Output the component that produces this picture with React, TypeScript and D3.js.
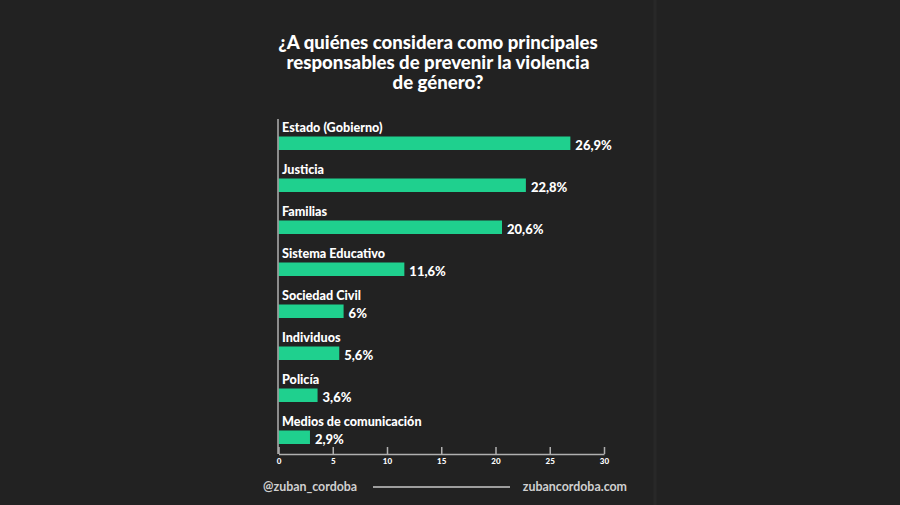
import React, { useRef, useEffect } from "react";
import * as d3 from "d3";

const categories = [
  "Estado (Gobierno)",
  "Justicia",
  "Familias",
  "Sistema Educativo",
  "Sociedad Civil",
  "Individuos",
  "Policía",
  "Medios de comunicación",
];
const values = [26.9, 22.8, 20.6, 11.6, 6, 5.6, 3.6, 2.9];
const valueLabels = ["26,9%", "22,8%", "20,6%", "11,6%", "6%", "5,6%", "3,6%", "2,9%"];
const xTicks = [0, 5, 10, 15, 20, 25, 30];
const titleLines = [
  "¿A quiénes considera como principales",
  "responsables de prevenir la violencia",
  "de género?",
];

const W = 900;
const H = 505;
const FONT = "Lato, 'Noto Sans', sans-serif";
const GREEN = "#1fd08e";

const App = () => {
  const svgRef = useRef(null);

  useEffect(() => {
    const svg = d3.select(svgRef.current);
    svg.selectAll("*").remove();

    svg.append("rect").attr("width", W).attr("height", H).attr("fill", "#222222");
    // faint panel edge on the right
    svg.append("line")
      .attr("x1", 655).attr("x2", 655).attr("y1", 0).attr("y2", H)
      .attr("stroke", "#282828").attr("stroke-width", 3);

    // Title
    svg.append("g")
      .selectAll("text")
      .data(titleLines)
      .enter().append("text")
      .attr("x", 438)
      .attr("y", (d, i) => 49 + i * 20)
      .attr("text-anchor", "middle")
      .attr("fill", "#ffffff")
      .attr("font-family", FONT)
      .attr("font-weight", 900)
      .attr("font-size", 18.6)
      .text(d => d);

    const x = d3.scaleLinear().domain([0, 30]).range([278.5, 604]);
    const y = d3.scaleBand().domain(categories).range([119, 455]).padding(0);

    const rows = categories.map((c, i) => ({ c, v: values[i], label: valueLabels[i] }));

    const g = svg.append("g");

    g.selectAll(".bar")
      .data(rows)
      .enter().append("rect")
      .attr("class", "bar")
      .attr("x", x(0))
      .attr("y", d => y(d.c) + 17.5)
      .attr("width", d => x(d.v) - x(0))
      .attr("height", 13.5)
      .attr("fill", GREEN);

    g.selectAll(".cat")
      .data(rows)
      .enter().append("text")
      .attr("class", "cat")
      .attr("x", 282)
      .attr("y", d => y(d.c) + 12.5)
      .attr("fill", "#ffffff")
      .attr("font-family", FONT)
      .attr("font-weight", 900)
      .attr("font-size", 12.6)
      .text(d => d.c);

    g.selectAll(".val")
      .data(rows)
      .enter().append("text")
      .attr("class", "val")
      .attr("x", d => x(d.v) + 5)
      .attr("y", d => y(d.c) + 30.5)
      .attr("fill", "#ffffff")
      .attr("font-family", FONT)
      .attr("font-weight", 900)
      .attr("font-size", 13)
      .text(d => d.label);

    // y axis line
    svg.append("line")
      .attr("x1", 278).attr("x2", 278).attr("y1", 119).attr("y2", 454)
      .attr("stroke", "#b0b0b0").attr("stroke-width", 1.5);

    // x axis with ticks pointing up
    const xAxis = svg.append("g")
      .attr("transform", "translate(0, 454)")
      .call(d3.axisBottom(x).tickValues(xTicks).tickSizeInner(-7).tickSizeOuter(0).tickPadding(4));
    xAxis.select(".domain").attr("stroke", "#b0b0b0").attr("stroke-width", 1.5);
    xAxis.selectAll(".tick line").attr("stroke", "#b0b0b0").attr("stroke-width", 1.5);
    xAxis.selectAll(".tick text")
      .attr("fill", "#ffffff")
      .attr("font-family", FONT)
      .attr("font-weight", 900)
      .attr("font-size", 8);

    // Footer
    const foot = svg.append("g")
      .attr("font-family", FONT)
      .attr("font-weight", 700)
      .attr("font-size", 12.4)
      .attr("fill", "#d0d0d0");
    foot.append("text").attr("x", 263).attr("y", 491).text("@zuban_cordoba");
    foot.append("text").attr("x", 627).attr("y", 491).attr("text-anchor", "end").text("zubancordoba.com");
    svg.append("line")
      .attr("x1", 373).attr("x2", 510).attr("y1", 487).attr("y2", 487)
      .attr("stroke", "#c8c8c8").attr("stroke-width", 1.5);
  }, []);

  return (
    <svg ref={svgRef} width={W} height={H} style={{ position: "absolute", left: 0, top: 0 }}></svg>
  );
};

export default App;
